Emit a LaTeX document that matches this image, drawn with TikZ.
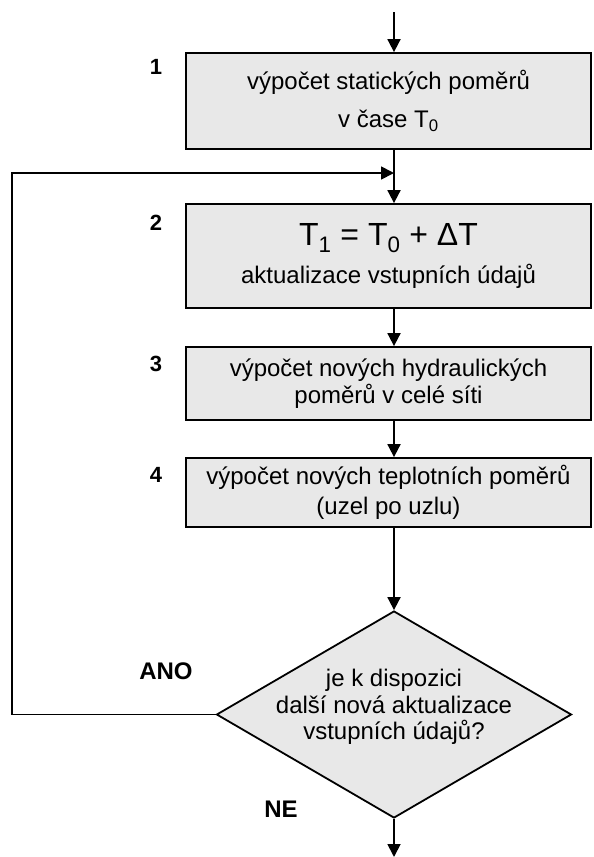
\documentclass[tikz,border=0pt]{standalone}
\usepackage{fontspec}
\setmainfont{Liberation Sans}
\usetikzlibrary{arrows.meta,shapes.geometric}
\definecolor{boxfill}{RGB}{232,232,232}
\begin{document}
\begin{tikzpicture}[x=1pt,y=-1pt,
  flowarrow/.style={line width=1.8pt,-{Triangle[width=13pt,length=13pt]}},
  stepbox/.style={draw=black,line width=1.8pt,fill=boxfill,rectangle,
    minimum width=405pt,inner sep=0pt,align=center,
    font=\fontsize{24}{26.5}\selectfont},
  decision/.style={draw=black,line width=1.8pt,fill=boxfill,diamond,
    aspect=1.715,inner sep=0pt,minimum width=355pt,minimum height=207pt},
  decisiontext/.style={align=center,inner sep=0pt,
    font=\fontsize{24}{26.5}\selectfont},
  steplabel/.style={font=\fontsize{22}{24}\selectfont\bfseries},
  answer/.style={font=\fontsize{24}{26}\selectfont\bfseries}]
\useasboundingbox (0,0) rectangle (594,857);

% main axis of the flow
\coordinate (ax) at (394,0);
\coordinate (start) at (394,12);
\coordinate (finish) at (394,857);

% process steps
\node[stepbox,minimum height=96pt] (s1) at (388.5,101)
  {výpočet statických poměrů\\[12pt] v čase T\textsubscript{0}};
\node[stepbox,minimum height=104pt] (s2) at (388.5,256)
  {{\fontsize{32}{34}\selectfont T\textsubscript{1} = T\textsubscript{0} + ΔT}\\[11pt]
   aktualizace vstupních údajů};
\node[stepbox,minimum height=73pt] (s3) at (388.5,383.5)
  {výpočet nových hydraulických\\ poměrů v celé síti};
\node[stepbox,minimum height=69pt] (s4) at (388.5,492.5)
  {výpočet nových teplotních poměrů\\[4pt] (uzel po uzlu)};
\node[decision] (d) at (394,714.5) {};
\node[decisiontext] (dt) at (394,707)
  {je k dispozici\\ další nová aktualizace\\ vstupních údajů?};

% step numbers
\node[steplabel] (n1) at (156,67) {1};
\node[steplabel] (n2) at (156,223) {2};
\node[steplabel] (n3) at (156,364) {3};
\node[steplabel] (n4) at (156,475) {4};

% answers of the decision
\node[answer] (yes) at (166,671) {ANO};
\node[answer] (no) at (281,809) {NE};

% connectors
\draw[flowarrow] (start) -- (s1.north -| ax);
\draw[flowarrow] (s1.south -| ax) -- (s2.north -| ax);
\draw[flowarrow] (s2.south -| ax) -- (s3.north -| ax);
\draw[flowarrow] (s3.south -| ax) -- (s4.north -| ax);
\draw[flowarrow] (s4.south -| ax) -- (d.north);
\draw[flowarrow] (d.south) -- (finish);

% return loop for the next update
\coordinate (loopin) at (394,173);
\draw[flowarrow] (d.west) -- (12,714.5) -- (12,173) -- (loopin);
\end{tikzpicture}
\end{document}
